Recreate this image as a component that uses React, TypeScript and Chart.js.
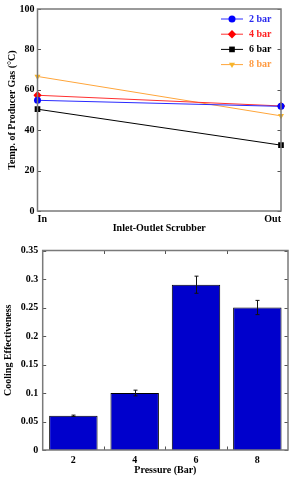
import React, { useEffect, useRef } from "react";
import { Chart, registerables } from "chart.js";

Chart.register(...registerables);

// ---- Data: top chart ----
const sections = ["In", "Out"];
const seriesLabels = ["2 bar", "4 bar", "6 bar", "8 bar"];
const temp2bar = [54.8, 51.8];
const temp4bar = [57.3, 52];
const temp6bar = [50.4, 32.6];
const temp8bar = [66.6, 47.1];
const tempTicks = [0, 20, 40, 60, 80, 100];

// ---- Data: bottom chart ----
const pressures = ["2", "4", "6", "8"];
const effectiveness = [0.06, 0.1, 0.29, 0.25];
const effectivenessErr = [0.0012, 0.005, 0.015, 0.0125];

const FONT = "'Liberation Serif', 'Times New Roman', serif";
const BORDER = "#7a7a7a";
const TICKC = "#555555";

function drawMarker(ctx: CanvasRenderingContext2D, style: string, x: number, y: number, r: number, color: string) {
  ctx.save();
  ctx.fillStyle = color;
  ctx.beginPath();
  if (style === "circle") {
    ctx.arc(x, y, r, 0, Math.PI * 2);
  } else if (style === "rectRot") {
    ctx.moveTo(x, y - r);
    ctx.lineTo(x + r, y);
    ctx.lineTo(x, y + r);
    ctx.lineTo(x - r, y);
    ctx.closePath();
  } else if (style === "rect") {
    const s = r * Math.SQRT1_2;
    ctx.rect(x - s, y - s, 2 * s, 2 * s);
  } else if (style === "triangleDown") {
    ctx.moveTo(x - r * 0.87, y - r * 0.5);
    ctx.lineTo(x + r * 0.87, y - r * 0.5);
    ctx.lineTo(x, y + r);
    ctx.closePath();
  }
  ctx.fill();
  ctx.restore();
}

const frameAndTicks = {
  id: "frameAndTicks",
  afterDraw(chart: any, _args: any, opts: any) {
    const { ctx, chartArea: a } = chart;
    ctx.save();
    // inward ticks
    ctx.strokeStyle = TICKC;
    ctx.lineWidth = 1;
    const len = opts.len || 3.5;
    const y = chart.scales.y;
    y.ticks.forEach((_t: any, i: number) => {
      const py = Math.round(y.getPixelForTick(i)) + 0.5;
      ctx.beginPath();
      ctx.moveTo(a.left, py);
      ctx.lineTo(a.left + len, py);
      ctx.moveTo(a.right, py);
      ctx.lineTo(a.right - len, py);
      ctx.stroke();
    });
    if (opts.categoryBoundaries) {
      const x = chart.scales.x;
      const n = x.ticks.length;
      for (let i = 0; i < n - 1; i++) {
        const px = Math.round((x.getPixelForValue(i) + x.getPixelForValue(i + 1)) / 2) + 0.5;
        ctx.beginPath();
        ctx.moveTo(px, a.bottom);
        ctx.lineTo(px, a.bottom - len);
        ctx.moveTo(px, a.top);
        ctx.lineTo(px, a.top + len);
        ctx.stroke();
      }
    }
    // frame
    ctx.strokeStyle = BORDER;
    ctx.lineWidth = 1.5;
    ctx.strokeRect(a.left, a.top, a.right - a.left, a.bottom - a.top);
    ctx.restore();
  },
};

const lineLegend = {
  id: "lineLegend",
  afterDraw(chart: any) {
    const { ctx, chartArea: a } = chart;
    ctx.save();
    chart.data.datasets.forEach((ds: any, i: number) => {
      const rowY = a.top + 10 + i * 15.2;
      const x1 = a.right - 60;
      const x2 = a.right - 38;
      ctx.strokeStyle = ds.borderColor;
      ctx.lineWidth = 1;
      ctx.beginPath();
      ctx.moveTo(x1, rowY);
      ctx.lineTo(x2, rowY);
      ctx.stroke();
      drawMarker(ctx, ds.markerShape, (x1 + x2) / 2, rowY, ds.pointRadius, ds.pointBackgroundColor);
      ctx.fillStyle = ds.legendTextColor;
      ctx.font = `bold 10px ${FONT}`;
      ctx.textBaseline = "middle";
      ctx.textAlign = "left";
      ctx.fillText(ds.label, a.right - 32, rowY);
    });
    ctx.restore();
  },
};

const errorBars = {
  id: "errorBars",
  afterDatasetsDraw(chart: any) {
    const { ctx } = chart;
    const meta = chart.getDatasetMeta(0);
    const y = chart.scales.y;
    ctx.save();
    ctx.strokeStyle = "#111";
    ctx.lineWidth = 1;
    meta.data.forEach((el: any, i: number) => {
      const v = effectiveness[i];
      const e = effectivenessErr[i];
      const yt = y.getPixelForValue(v + e);
      const yb = y.getPixelForValue(v - e);
      const x = Math.round(el.x) + 0.5;
      ctx.beginPath();
      ctx.moveTo(x, yt);
      ctx.lineTo(x, yb);
      ctx.moveTo(x - 2, yt);
      ctx.lineTo(x + 2, yt);
      ctx.moveTo(x - 2, yb);
      ctx.lineTo(x + 2, yb);
      ctx.stroke();
    });
    ctx.restore();
  },
};

function TopChart() {
  const ref = useRef<HTMLCanvasElement>(null);
  useEffect(() => {
    const colors = ["#2a2aff", "#ff3030", "#000000", "#ffa53a"];
    const marks = ["#0000ff", "#ff0000", "#000000", "#f7b52a"];
    const textCol = ["#2a2aee", "#ff2020", "#000000", "#ff9a40"];
    const shapes = ["circle", "rectRot", "rect", "triangleDown"];
    const chartStyles: any[] = ["circle", "rectRot", "rect", "triangle"];
    const radii = [3.5, 4.2, 4, 3.5];
    const values = [temp2bar, temp4bar, temp6bar, temp8bar];
    const chart = new Chart(ref.current!, {
      type: "line",
      data: {
        labels: sections,
        datasets: seriesLabels.map((lab, i) => ({
          label: lab,
          data: values[i],
          borderColor: colors[i],
          borderWidth: 1,
          pointBackgroundColor: marks[i],
          pointBorderColor: marks[i],
          pointBorderWidth: 0,
          pointRadius: radii[i],
          pointStyle: chartStyles[i],
          pointRotation: i === 3 ? 180 : 0,
          markerShape: shapes[i],
          legendTextColor: textCol[i],
          tension: 0,
        })) as any,
      },
      options: {
        animation: false,
        responsive: false,
        layout: { padding: { top: 7, right: 12, left: 0, bottom: 0 } },
        plugins: {
          legend: { display: false },
          tooltip: { enabled: false },
          frameAndTicks: { len: 3.5 },
        } as any,
        scales: {
          x: {
            type: "category",
            offset: false,
            grid: { display: false, drawTicks: false },
            border: { display: false },
            ticks: {
              align: "inner",
              padding: 2,
              color: "#000",
              font: { family: FONT, size: 10, weight: "bold" },
              maxRotation: 0,
            },
            title: {
              display: true,
              text: "Inlet-Outlet Scrubber",
              color: "#000",
              font: { family: FONT, size: 10, weight: "bold" },
              padding: { top: 0, bottom: 6 },
            },
            afterFit: (s: any) => {
              s.height = 29;
            },
          },
          y: {
            min: 0,
            max: 100,
            afterBuildTicks: (s: any) => {
              s.ticks = tempTicks.map((v) => ({ value: v }));
            },
            grid: { display: false, drawTicks: false },
            border: { display: false },
            ticks: {
              padding: 3,
              color: "#000",
              font: { family: FONT, size: 10, weight: "bold" },
            },
            title: {
              display: true,
              text: "Temp. of Producer Gas (°C)",
              color: "#000",
              font: { family: FONT, size: 10, weight: "bold" },
              padding: { top: 6.5, bottom: 0 },
            },
            afterFit: (s: any) => {
              s.width = 37.5;
            },
          },
        },
      },
      plugins: [frameAndTicks, lineLegend],
    });
    return () => chart.destroy();
  }, []);
  return <canvas ref={ref} width={293} height={240} style={{ display: "block", width: 293, height: 240 }} />;
}

function BottomChart() {
  const ref = useRef<HTMLCanvasElement>(null);
  useEffect(() => {
    const chart = new Chart(ref.current!, {
      type: "bar",
      data: {
        labels: pressures,
        datasets: [
          {
            label: "Cooling Effectiveness",
            data: effectiveness,
            backgroundColor: "#0000cc",
            borderColor: "#000000",
            borderWidth: 1,
            barPercentage: 0.79,
            categoryPercentage: 1,
          },
        ],
      },
      options: {
        animation: false,
        responsive: false,
        layout: { padding: { top: 6, right: 5, left: 0, bottom: 0 } },
        plugins: {
          legend: { display: false },
          tooltip: { enabled: false },
          frameAndTicks: { len: 3.5, categoryBoundaries: true },
        } as any,
        scales: {
          x: {
            grid: { display: false, drawTicks: false },
            border: { display: false },
            ticks: {
              padding: 4,
              color: "#000",
              font: { family: FONT, size: 10, weight: "bold" },
            },
            title: {
              display: true,
              text: "Pressure (Bar)",
              color: "#000",
              font: { family: FONT, size: 10, weight: "bold" },
              padding: { top: 0, bottom: 4 },
            },
            afterFit: (s: any) => {
              s.height = 30;
            },
          },
          y: {
            min: 0,
            max: 0.35,
            ticks: {
              stepSize: 0.05,
              padding: 4.5,
              color: "#000",
              font: { family: FONT, size: 10, weight: "bold" },
              callback: (v: any) => String(Math.round(Number(v) * 100) / 100),
            },
            grid: { display: false, drawTicks: false },
            border: { display: false },
            title: {
              display: true,
              text: "Cooling Effectiveness",
              color: "#000",
              font: { family: FONT, size: 10, weight: "bold" },
              padding: { top: 2, bottom: 0 },
            },
            afterFit: (s: any) => {
              s.width = 42.7;
            },
          },
        },
      },
      plugins: [frameAndTicks, errorBars],
    });
    return () => chart.destroy();
  }, []);
  return <canvas ref={ref} width={293} height={240} style={{ display: "block", width: 293, height: 240 }} />;
}

export default function App() {
  return (
    <div style={{ position: "fixed", left: 0, top: 0, width: 293, height: 480, background: "#fff" }}>
      <TopChart />
      <BottomChart />
    </div>
  );
}
